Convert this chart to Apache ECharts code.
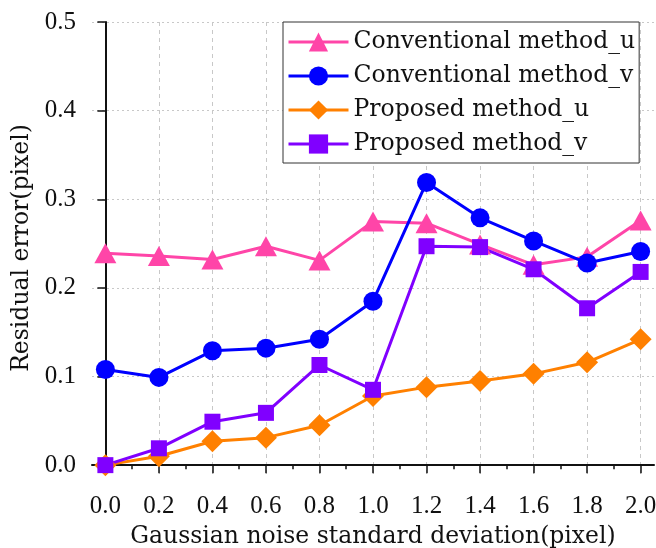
<!DOCTYPE html>
<html><head><meta charset="utf-8">
<script src="https://cdn.jsdelivr.net/npm/echarts@6/dist/echarts.min.js"></script>
<style>html,body{margin:0;padding:0;background:#fff}#c{width:656px;height:548px}</style>
</head><body><div id="c"></div>
<script>
const xValues = [0.0, 0.2, 0.4, 0.6, 0.8, 1.0, 1.2, 1.4, 1.6, 1.8, 2.0];
const xMajorTicks = [0.0, 0.2, 0.4, 0.6, 0.8, 1.0, 1.2, 1.4, 1.6, 1.8, 2.0];
const xMinorTicks = [0.1, 0.3, 0.5, 0.7, 0.9, 1.1, 1.3, 1.5, 1.7, 1.9];
const yMajorTicks = [0.0, 0.1, 0.2, 0.3, 0.4, 0.5];
const conventionalU = [0.239, 0.236, 0.232, 0.247, 0.231, 0.275, 0.273, 0.249, 0.226, 0.235, 0.276];
const conventionalV = [0.108, 0.099, 0.129, 0.132, 0.142, 0.185, 0.319, 0.279, 0.253, 0.228, 0.241];
const proposedU = [0.000, 0.010, 0.027, 0.031, 0.045, 0.078, 0.088, 0.095, 0.103, 0.116, 0.142];
const proposedV = [0.000, 0.019, 0.049, 0.059, 0.113, 0.085, 0.247, 0.246, 0.221, 0.177, 0.218];
const seriesNames = ['Conventional method_u', 'Conventional method_v', 'Proposed method_u', 'Proposed method_v'];

const FONT = 'DejaVu Serif';
const TICK_FONT = 'Liberation Serif';
const FS_TICK = 25;
const FS_TEXT = 23.5;
const pair = arr => arr.map((v, i) => [xValues[i], v]);

function mk(name, data, color, symbol, size) {
  return {
    name, type: 'line', data: pair(data), symbol, symbolSize: size,
    lineStyle: { color, width: 3 }, itemStyle: { color },
    xAxisIndex: 0, yAxisIndex: 0, z: 3
  };
}

const chart = echarts.init(document.getElementById('c'), null, { renderer: 'canvas' });
const gridBox = { left: 92, right: 2, top: 22, bottom: 74, containLabel: false, outerBoundsMode: 'none' };
chart.setOption({
  animation: false,
  backgroundColor: '#fff',
  textStyle: { fontFamily: FONT },
  grid: [Object.assign({}, gridBox), Object.assign({}, gridBox)],
  legend: {
    data: seriesNames,
    orient: 'vertical', left: 283, top: 22,
    backgroundColor: '#fff', borderColor: '#333', borderWidth: 1,
    padding: [7, 4, 6, 4], itemGap: 8, itemWidth: 60, itemHeight: 24,
    lineStyle: { width: 3 },
    textStyle: { fontFamily: FONT, fontSize: FS_TEXT, color: '#111', lineHeight: 26 },
    z: 10
  },
  xAxis: [{
    type: 'value', gridIndex: 0, min: -0.05, max: 2.05,
    name: 'Gaussian noise standard deviation(pixel)', nameLocation: 'middle', nameGap: 51,
    nameTextStyle: { fontFamily: FONT, fontSize: FS_TEXT, color: '#111' },
    axisLine: { show: true, lineStyle: { color: '#111', width: 2 } },
    axisTick: { show: true, inside: false, length: 8, customValues: xMajorTicks, lineStyle: { color: '#111', width: 1.5 } },
    axisLabel: { customValues: xMajorTicks, formatter: v => v.toFixed(1), fontFamily: TICK_FONT, fontSize: FS_TICK, color: '#111', margin: 20 },
    splitLine: { show: true, lineStyle: { color: '#c8c8c8', type: [4, 4], width: 1 } }
  }, {
    type: 'value', gridIndex: 1, min: -0.05, max: 2.05, position: 'bottom',
    axisLine: { show: false },
    axisTick: { show: true, inside: false, length: 4, customValues: xMinorTicks, lineStyle: { color: '#111', width: 1.5 } },
    axisLabel: { show: false }, splitLine: { show: false }
  }],
  yAxis: [{
    type: 'value', gridIndex: 0, min: -0.01, max: 0.5,
    name: 'Residual error(pixel)', nameLocation: 'middle', nameGap: 52, nameRotate: 90,
    nameTextStyle: { fontFamily: FONT, fontSize: FS_TEXT, color: '#111' },
    axisLine: { show: true, lineStyle: { color: '#111', width: 2 } },
    axisTick: { show: true, inside: false, length: 8, customValues: yMajorTicks, lineStyle: { color: '#111', width: 1.5 } },
    axisLabel: { customValues: yMajorTicks, formatter: v => v.toFixed(1), fontFamily: TICK_FONT, fontSize: FS_TICK, color: '#111', margin: 16 },
    splitLine: { show: true, lineStyle: { color: '#c8c8c8', type: [2, 3], width: 1 } }
  }, {
    type: 'value', gridIndex: 1, min: -0.01, max: 0.5, show: false
  }],
  series: [
    mk(seriesNames[0], conventionalU, '#FF45A8', 'triangle', [22, 20]),
    mk(seriesNames[1], conventionalV, '#0000FF', 'circle', 19),
    mk(seriesNames[2], proposedU, '#FF8000', 'diamond', 22),
    mk(seriesNames[3], proposedV, '#8000FF', 'rect', 16)
  ]
});
</script></body></html>
